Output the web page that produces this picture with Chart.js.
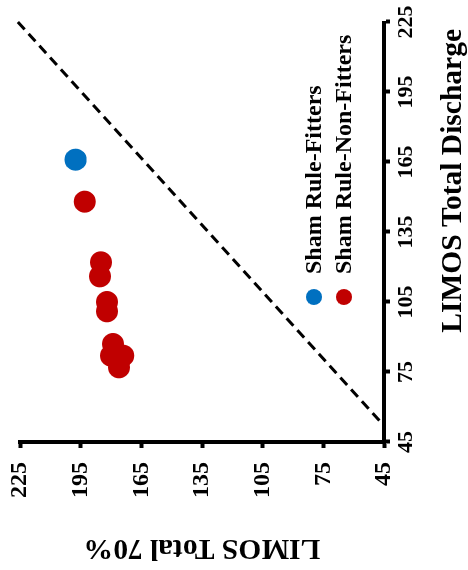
<!DOCTYPE html>
<html>
<head>
<meta charset="utf-8">
<script src="https://cdn.jsdelivr.net/npm/chart.js@4.4.1/dist/chart.umd.min.js"></script>
<style>
  html, body { margin: 0; padding: 0; background: #fff; overflow: hidden; }
  /* the plot is laid out landscape and turned a quarter turn counter-clockwise */
  #wrap {
    position: absolute; left: 0; top: 0;
    width: 570px; height: 468px;
    transform-origin: 0 0;
    transform: translateY(570px) rotate(-90deg);
  }
</style>
</head>
<body>
<div id="wrap"><canvas id="c" width="570" height="468"></canvas></div>
<script>
// axis titles
const xTitle = 'LIMOS Total Discharge';
const yTitle = 'LIMOS Total 70%';

// tick values shared by both axes
const tickValues = [45, 75, 105, 135, 165, 195, 225];

// series
const fittersLabel = 'Sham Rule-Fitters';
const fittersDischarge = [166];
const fitters70 = [197.5];

const nonFittersLabel = 'Sham Rule-Non-Fitters';
const nonFittersDischarge = [148, 122, 116, 105, 101, 87, 82, 82, 77];
const nonFitters70 = [193, 185, 185.5, 182, 182, 179, 180, 174, 176];

// dashed reference line (endpoints)
const refDischarge = [225, 52];
const ref70 = [226, 45];

const toPoints = (xs, ys) => xs.map((x, i) => ({ x: x, y: ys[i] }));

const FONT = 'Liberation Serif';

// legend drawn inside the plot area, one entry per row
const innerLegend = {
  id: 'innerLegend',
  afterDatasetsDraw(chart) {
    const { ctx, chartArea } = chart;
    const items = chart.data.datasets.filter(d => d.inLegend);
    const x0 = chartArea.left + 145;
    let y0 = chartArea.top + 294;
    ctx.save();
    ctx.font = 'bold 24px "' + FONT + '"';
    ctx.textBaseline = 'middle';
    ctx.textAlign = 'left';
    items.forEach(d => {
      ctx.beginPath();
      ctx.arc(x0, y0, 8, 0, Math.PI * 2);
      ctx.fillStyle = d.backgroundColor;
      ctx.fill();
      ctx.fillStyle = '#000';
      ctx.fillText(d.label, x0 + 23, y0 + 1);
      y0 += 30;
    });
    ctx.restore();
  }
};

// x-axis title, set a little in from the right end of the axis
const xAxisTitle = {
  id: 'xAxisTitle',
  afterDraw(chart) {
    const { ctx, chartArea } = chart;
    ctx.save();
    ctx.font = 'bold 29.5px "' + FONT + '"';
    ctx.fillStyle = '#000';
    ctx.textAlign = 'right';
    ctx.textBaseline = 'middle';
    ctx.fillText(xTitle, chartArea.right - 7, chart.height - 15);
    ctx.restore();
  }
};

const axisCommon = (fontSize) => ({
  type: 'linear',
  min: 45,
  max: 225,
  afterBuildTicks: s => { s.ticks = tickValues.map(v => ({ value: v })); },
  grid: { drawOnChartArea: false, drawTicks: true, tickLength: 6, tickWidth: 4, tickColor: '#000' },
  border: { display: true, color: '#000', width: 4 },
  ticks: {
    color: '#000',
    font: { family: FONT, size: fontSize, weight: 'bold' },
    minRotation: 0, maxRotation: 0
  }
});

const xAxis = axisCommon(22);
xAxis.position = 'bottom';
xAxis.ticks.padding = 3;
xAxis.title = { display: false };
xAxis.afterFit = s => { s.height = 84; s.paddingLeft = 0; s.paddingRight = 0; };

const yAxis = axisCommon(24);
yAxis.position = 'left';
yAxis.ticks.padding = 14;
yAxis.title = {
  display: true,
  text: yTitle,
  align: 'center',
  color: '#000',
  font: { family: FONT, size: 29.5, weight: 'bold', lineHeight: 1 },
  padding: { top: 8, bottom: 0 }
};
yAxis.afterFit = s => { s.width = 128; s.paddingTop = 0; s.paddingBottom = 0; };

new Chart(document.getElementById('c'), {
  type: 'scatter',
  data: {
    datasets: [
      {
        label: fittersLabel,
        inLegend: true,
        data: toPoints(fittersDischarge, fitters70),
        backgroundColor: '#0070C0',
        borderWidth: 0,
        pointRadius: 11,
        pointHoverRadius: 11
      },
      {
        label: nonFittersLabel,
        inLegend: true,
        data: toPoints(nonFittersDischarge, nonFitters70),
        backgroundColor: '#C00000',
        borderWidth: 0,
        pointRadius: 11,
        pointHoverRadius: 11
      },
      {
        label: 'reference',
        type: 'line',
        data: toPoints(refDischarge, ref70),
        borderColor: '#000',
        borderWidth: 3,
        borderDash: [10, 6],
        pointRadius: 0,
        fill: false,
        clip: false
      }
    ]
  },
  options: {
    responsive: false,
    animation: false,
    devicePixelRatio: 1,
    layout: { padding: { top: 20, right: 22, left: 0, bottom: 0 } },
    plugins: {
      legend: { display: false },
      tooltip: { enabled: false }
    },
    scales: { x: xAxis, y: yAxis }
  },
  plugins: [innerLegend, xAxisTitle]
});
</script>
</body>
</html>
